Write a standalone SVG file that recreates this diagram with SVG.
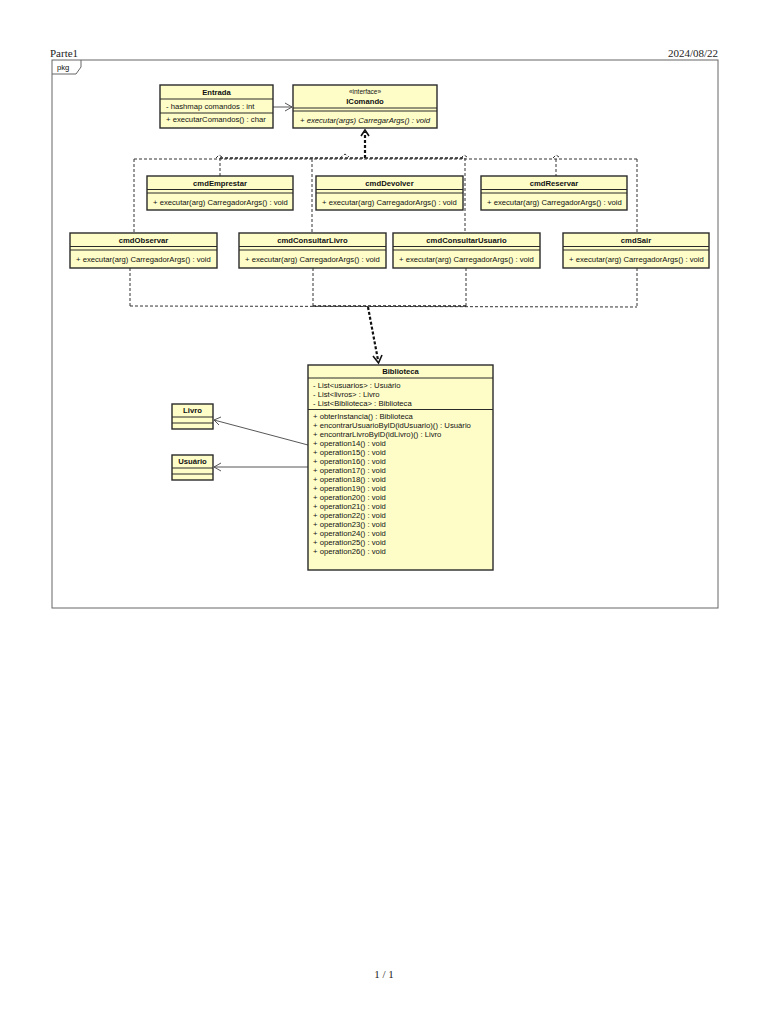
<svg xmlns="http://www.w3.org/2000/svg" width="768" height="1024" viewBox="0 0 768 1024">
<defs>
<style>
.bg{fill:#ffffff}
.box{fill:#fefdc8;stroke:#2a2a2a;stroke-width:1.4}
.sep{stroke:#2a2a2a;stroke-width:1}
.t{font-family:"Liberation Sans",Arial,sans-serif;font-size:7.7px;fill:#111}
.b{font-weight:bold}
.c{text-anchor:middle}
.i{font-style:italic}
.hdr{font-family:"Liberation Serif","Times New Roman",serif;font-size:11px;fill:#222}
.frame{fill:none;stroke:#666;stroke-width:1}
.dash{fill:none;stroke:#333;stroke-width:1;stroke-dasharray:3,2}
.dashb{fill:none;stroke:#222;stroke-width:1.6;stroke-dasharray:3,2}
.dep{fill:none;stroke:#111;stroke-width:2.2;stroke-dasharray:3,2}
.assoc{fill:none;stroke:#444;stroke-width:0.9}
.head{fill:none;stroke:#111;stroke-width:1.6}
.headt{fill:none;stroke:#444;stroke-width:0.9}
</style>
</defs>
<rect class="bg" x="0" y="0" width="768" height="1024"/>
<text class="hdr" x="50" y="57">Parte1</text>
<text class="hdr" x="718" y="57" text-anchor="end">2024/08/22</text>
<text class="hdr" x="384" y="978" text-anchor="middle">1 / 1</text>

<g id="frame">
<rect class="frame" x="52" y="60" width="666" height="548"/>
<path class="frame" d="M52,74 L76,74 L81,67 L81,60"/>
<text class="t" x="57" y="70">pkg</text>
</g>

<g id="connectors">
<line class="assoc" x1="273" y1="107" x2="292" y2="107"/>
<path class="headt" d="M285,103 L292,107 L285,111"/>
<line class="dep" x1="365" y1="158" x2="365" y2="132"/>
<path class="head" d="M361,136 L365,130 L369,136"/>
<line class="dash" x1="134" y1="159" x2="637" y2="159"/>
<line class="dashb" x1="220" y1="158" x2="465" y2="158"/>
<path class="dash" d="M216,158 L219,155 L222,157"/>
<path class="dash" d="M340,158 L345,154 L349,157"/>
<path class="dash" d="M461,158 L464,155 L467,157"/>
<path class="dash" d="M553,158 L556,155 L559,157"/>
<line class="dash" x1="134" y1="159" x2="134" y2="233"/>
<line class="dash" x1="220" y1="158" x2="220" y2="176"/>
<line class="dash" x1="312" y1="159" x2="312" y2="233"/>
<line class="dash" x1="465" y1="158" x2="465" y2="233"/>
<line class="dash" x1="556" y1="159" x2="556" y2="176"/>
<line class="dash" x1="637" y1="159" x2="637" y2="233"/>
<line class="dash" x1="130" y1="268" x2="130" y2="306"/>
<line class="dash" x1="313" y1="268" x2="313" y2="306"/>
<line class="dash" x1="466" y1="268" x2="466" y2="306"/>
<line class="dash" x1="637" y1="268" x2="637" y2="308"/>
<line class="dash" x1="130" y1="306" x2="637" y2="307"/>
<line class="dashb" x1="313" y1="306" x2="466" y2="306"/>
<line class="dep" x1="368" y1="307" x2="378" y2="360"/>
<path class="head" d="M373,356 L378.5,363 L382,355"/>
<line class="assoc" x1="308" y1="445" x2="214" y2="420"/>
<path class="headt" d="M221,417 L214,420 L219,425"/>
<line class="assoc" x1="308" y1="467" x2="214" y2="467"/>
<path class="headt" d="M221,463 L214,467 L221,471"/>
</g>

<g id="Entrada">
<rect class="box" x="160" y="85" width="113" height="43"/>
<line class="sep" x1="160" y1="99" x2="273" y2="99"/>
<line class="sep" x1="160" y1="113" x2="273" y2="113"/>
<text class="t b c" x="216.5" y="94.5">Entrada</text>
<text class="t" x="166" y="108.5">- hashmap comandos : int</text>
<text class="t" x="166" y="122">+ executarComandos() : char</text>
</g>

<g id="IComando">
<rect class="box" x="293" y="85" width="144" height="43"/>
<line class="sep" x1="293" y1="108" x2="437" y2="108"/>
<line class="sep" x1="293" y1="111" x2="437" y2="111"/>
<text class="t c" x="365" y="94" style="font-size:6.5px">«interface»</text>
<text class="t b c" x="365" y="103.5">IComando</text>
<text class="t i" x="300" y="122.5">+ executar(args) CarregarArgs() : void</text>
</g>

<g id="cmdEmprestar">
<rect class="box" x="147" y="176" width="146" height="34"/>
<line class="sep" x1="147" y1="189.5" x2="293" y2="189.5"/>
<line class="sep" x1="147" y1="193" x2="293" y2="193"/>
<text class="t b c" x="220" y="185.5">cmdEmprestar</text>
<text class="t" x="153" y="204.5">+ executar(arg) CarregadorArgs() : void</text>
</g>

<g id="cmdDevolver">
<rect class="box" x="316" y="176" width="147" height="34"/>
<line class="sep" x1="316" y1="189.5" x2="463" y2="189.5"/>
<line class="sep" x1="316" y1="193" x2="463" y2="193"/>
<text class="t b c" x="389.5" y="185.5">cmdDevolver</text>
<text class="t" x="322" y="204.5">+ executar(arg) CarregadorArgs() : void</text>
</g>

<g id="cmdReservar">
<rect class="box" x="481" y="176" width="146" height="34"/>
<line class="sep" x1="481" y1="189.5" x2="627" y2="189.5"/>
<line class="sep" x1="481" y1="193" x2="627" y2="193"/>
<text class="t b c" x="554" y="185.5">cmdReservar</text>
<text class="t" x="487" y="204.5">+ executar(arg) CarregadorArgs() : void</text>
</g>

<g id="cmdObservar">
<rect class="box" x="70" y="233" width="147" height="35"/>
<line class="sep" x1="70" y1="246.5" x2="217" y2="246.5"/>
<line class="sep" x1="70" y1="250" x2="217" y2="250"/>
<text class="t b c" x="143.5" y="242.5">cmdObservar</text>
<text class="t" x="76" y="261.5">+ executar(arg) CarregadorArgs() : void</text>
</g>

<g id="cmdConsultarLivro">
<rect class="box" x="239" y="233" width="147" height="35"/>
<line class="sep" x1="239" y1="246.5" x2="386" y2="246.5"/>
<line class="sep" x1="239" y1="250" x2="386" y2="250"/>
<text class="t b c" x="312.5" y="242.5">cmdConsultarLivro</text>
<text class="t" x="245" y="261.5">+ executar(arg) CarregadorArgs() : void</text>
</g>

<g id="cmdConsultarUsuario">
<rect class="box" x="393" y="233" width="147" height="35"/>
<line class="sep" x1="393" y1="246.5" x2="540" y2="246.5"/>
<line class="sep" x1="393" y1="250" x2="540" y2="250"/>
<text class="t b c" x="466.5" y="242.5">cmdConsultarUsuario</text>
<text class="t" x="399" y="261.5">+ executar(arg) CarregadorArgs() : void</text>
</g>

<g id="cmdSair">
<rect class="box" x="563" y="233" width="146" height="35"/>
<line class="sep" x1="563" y1="246.5" x2="709" y2="246.5"/>
<line class="sep" x1="563" y1="250" x2="709" y2="250"/>
<text class="t b c" x="636" y="242.5">cmdSair</text>
<text class="t" x="569" y="261.5">+ executar(arg) CarregadorArgs() : void</text>
</g>

<g id="Biblioteca">
<rect class="box" x="308" y="365" width="185" height="205"/>
<line class="sep" x1="308" y1="378" x2="493" y2="378"/>
<line class="sep" x1="308" y1="409.5" x2="493" y2="409.5"/>
<text class="t b c" x="400.5" y="374">Biblioteca</text>
<text class="t" x="313" y="387.5">- List&lt;usuarios&gt; : Usuário</text>
<text class="t" x="313" y="396.5">- List&lt;livros&gt; : Livro</text>
<text class="t" x="313" y="405.5">- List&lt;Biblioteca&gt; : Biblioteca</text>
<text class="t" x="313" y="419">+ obterInstancia() : Biblioteca</text>
<text class="t" x="313" y="428">+ encontrarUsuarioByID(idUsuario)() : Usuário</text>
<text class="t" x="313" y="437">+ encontrarLivroByID(idLivro)() : Livro</text>
<text class="t" x="313" y="446">+ operation14() : void</text>
<text class="t" x="313" y="455">+ operation15() : void</text>
<text class="t" x="313" y="464">+ operation16() : void</text>
<text class="t" x="313" y="473">+ operation17() : void</text>
<text class="t" x="313" y="482">+ operation18() : void</text>
<text class="t" x="313" y="491">+ operation19() : void</text>
<text class="t" x="313" y="500">+ operation20() : void</text>
<text class="t" x="313" y="509">+ operation21() : void</text>
<text class="t" x="313" y="518">+ operation22() : void</text>
<text class="t" x="313" y="527">+ operation23() : void</text>
<text class="t" x="313" y="536">+ operation24() : void</text>
<text class="t" x="313" y="545">+ operation25() : void</text>
<text class="t" x="313" y="554">+ operation26() : void</text>
</g>

<g id="Livro">
<rect class="box" x="172" y="404" width="41" height="25"/>
<line class="sep" x1="172" y1="417" x2="213" y2="417"/>
<line class="sep" x1="172" y1="423" x2="213" y2="423"/>
<text class="t b c" x="192.5" y="413">Livro</text>
</g>

<g id="Usuario">
<rect class="box" x="172" y="455" width="41" height="25"/>
<line class="sep" x1="172" y1="468" x2="213" y2="468"/>
<line class="sep" x1="172" y1="474" x2="213" y2="474"/>
<text class="t b c" x="192.5" y="464">Usuário</text>
</g>
</svg>
